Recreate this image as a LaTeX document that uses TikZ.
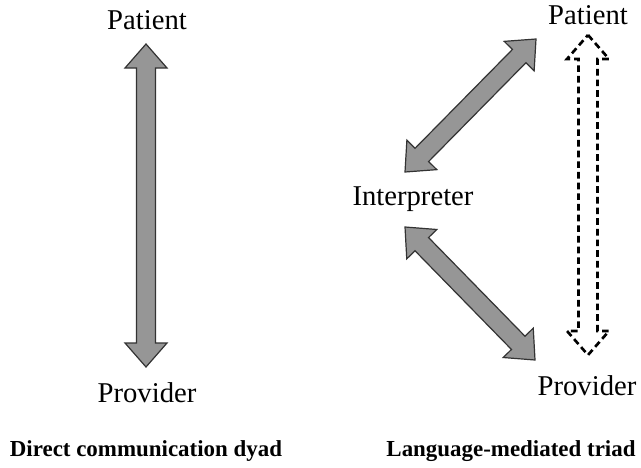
\documentclass[tikz,border=0pt]{standalone}
\usepackage{fontspec}
\setmainfont{Liberation Serif}
\usetikzlibrary{calc}
\definecolor{arrgrey}{RGB}{150,150,150}
\newcommand\arrHL{18pt}
\newcommand\arrHW{15.75pt}
\newcommand\arrSW{7.1pt}
\newcommand\dblarrow[3][]{%
  \draw[#1] (#2)
    -- ($(#2)!\arrHL!(#3)!\arrHW!90:(#3)$)
    -- ($(#2)!\arrHL!(#3)!\arrSW!90:(#3)$)
    -- ($(#3)!\arrHL!(#2)!\arrSW!-90:(#2)$)
    -- ($(#3)!\arrHL!(#2)!\arrHW!-90:(#2)$)
    -- (#3)
    -- ($(#3)!\arrHL!(#2)!\arrHW!90:(#2)$)
    -- ($(#3)!\arrHL!(#2)!\arrSW!90:(#2)$)
    -- ($(#2)!\arrHL!(#3)!\arrSW!-90:(#3)$)
    -- ($(#2)!\arrHL!(#3)!\arrHW!-90:(#3)$)
    -- cycle;}
\tikzset{
  lbl/.style={font=\fontsize{21.5}{26}\selectfont, inner sep=0pt, anchor=base},
  capt/.style={font=\fontsize{17.2}{21}\selectfont\bfseries, inner sep=0pt, anchor=base},
  greyarr/.style={fill=arrgrey, draw=black!80, line width=0.9pt, line join=miter},
  dasharr/.style={fill=white, draw=black, line width=2pt, dash pattern=on 5pt off 3pt, line join=miter},
}
\begin{document}
\begin{tikzpicture}[x=0.75pt, y=-0.75pt]
\useasboundingbox (0,0) rectangle (641,467);
% labels
\node[lbl] (lpat) at (147,30) {Patient};
\node[lbl] (lprov) at (147,402) {Provider};
\node[lbl] (rpat) at (588,25) {Patient};
\node[lbl] (rprov) at (587,395) {Provider};
\node[lbl] (interp) at (413,205) {Interpreter};
\node[capt] (cap1) at (146,456) {Direct communication dyad};
\node[capt] (cap2) at (511,456) {Language-mediated triad};
% arrow end points
\coordinate (a1) at (146,44);
\coordinate (a2) at (146,367);
\coordinate (b1) at (405,172);
\coordinate (b2) at (536,39);
\coordinate (c1) at (405,227);
\coordinate (c2) at (535,360);
\coordinate (d1) at (588,35);
\coordinate (d2) at (588,355);
% arrows
\dblarrow[greyarr]{a1}{a2}
\dblarrow[greyarr]{b1}{b2}
\dblarrow[greyarr]{c1}{c2}
\dblarrow[dasharr]{d1}{d2}
\end{tikzpicture}
\end{document}
